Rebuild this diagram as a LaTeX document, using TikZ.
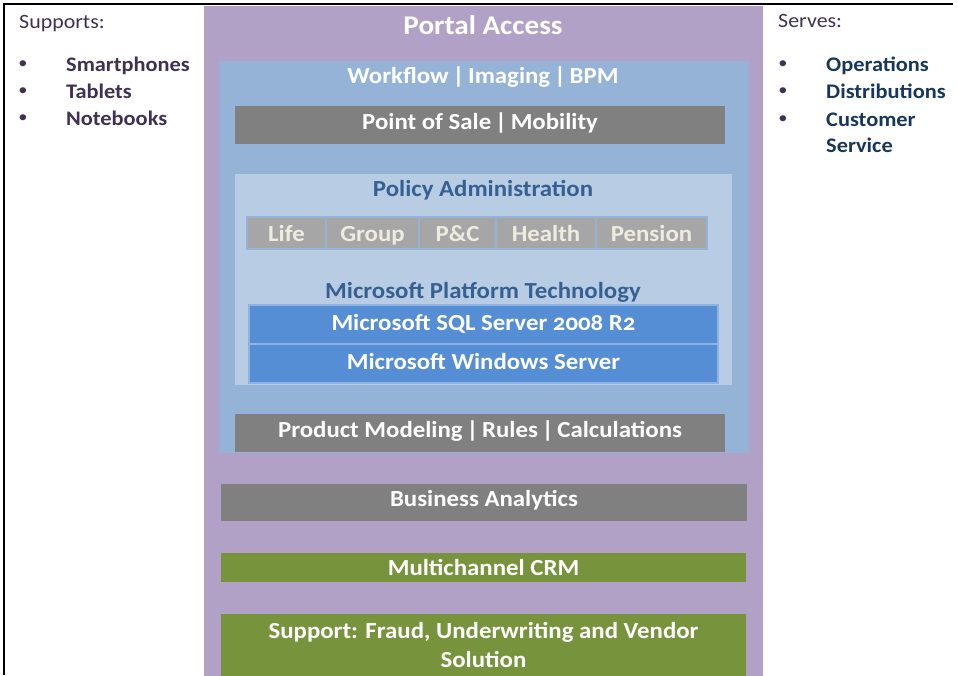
\documentclass[tikz,border=0pt]{standalone}
\usepackage{fontspec}
\setmainfont{Carlito}[FakeStretch=1.08]
\usetikzlibrary{positioning}
\definecolor{portalpurple}{HTML}{B2A1C7}
\definecolor{layerblue}{HTML}{95B3D7}
\definecolor{policyblue}{HTML}{B8CCE4}
\definecolor{msblue}{HTML}{558ED5}
\definecolor{edgeblue}{HTML}{8DB3E2}
\definecolor{modgray}{HTML}{808080}
\definecolor{lobgray}{HTML}{A6A6A6}
\definecolor{lobtext}{HTML}{EEECE1}
\definecolor{crmgreen}{HTML}{77933C}
\definecolor{titleblue}{HTML}{376092}
\definecolor{sidepurple}{HTML}{403152}
\definecolor{sidenavy}{HTML}{17365D}

\begin{document}
\begin{tikzpicture}[x=1pt,y=-1pt,
    layer/.style={rectangle,inner sep=0pt,outer sep=0pt},
    txt/.style={inner sep=0pt,font=\bfseries\fontsize{23}{29}\selectfont,text=white,
      text height=16,text depth=8},
    title/.style={inner sep=0pt,anchor=base,font=\bfseries\fontsize{23}{29}\selectfont},
    lobcell/.style={layer,draw=layerblue,line width=2pt,fill=lobgray,
      minimum height=32,text=lobtext,font=\bfseries\fontsize{23}{28}\selectfont,
      text height=16,text depth=0},
    msbox/.style={layer,draw=edgeblue,line width=2pt,fill=msblue,
      minimum width=469,minimum height=39,txt,text depth=4},
    sideitem/.style={anchor=base west,inner sep=0pt,font=\bfseries\fontsize{20.7}{24}\selectfont},
    sidehead/.style={anchor=base west,inner sep=0pt,text=sidepurple,font=\fontsize{20.3}{24}\selectfont},
    dot/.style={inner sep=0pt,text=sidepurple,font=\fontsize{17}{20}\selectfont}]
  \useasboundingbox (0,0) rectangle (958,675);
  \clip (0,0) rectangle (958,675);
  % frame (top and left only)
  \draw[line width=2.5pt] (4,675) -- (4,4) -- (953,4);
  % main layers
  \node[layer,fill=portalpurple,minimum width=559,minimum height=680] at (483.5,346) (portal) {};
  \node[title,text=white,font=\bfseries\fontsize{27}{30}\selectfont] at (483,34) (portaltitle) {Portal Access};
  \node[layer,fill=layerblue,minimum width=530,minimum height=392] at (484,257) (workflow) {};
  \node[title,text=white] at (483,83) (workflowtitle) {Workflow\,|\,Imaging\,|\,BPM};
  \node[layer,fill=modgray,minimum width=490,minimum height=38,txt] at (480,125) (pos)
    {Point of Sale\,|\,Mobility};
  \node[layer,fill=policyblue,minimum width=497,minimum height=211] at (483.5,279.5) (policy) {};
  \node[title,text=titleblue] at (483,196) (policytitle) {Policy Administration};
  % lines of business
  \node[lobcell,minimum width=79] at (286.5,233) (life) {Life};
  \node[lobcell,minimum width=93,right=0pt of life] (group) {Group};
  \node[lobcell,minimum width=77,right=0pt of group] (pc) {P\&C};
  \node[lobcell,minimum width=100,right=0pt of pc] (health) {Health};
  \node[lobcell,minimum width=111,right=0pt of health] (pension) {Pension};
  % platform
  \node[title,text=titleblue] at (483,298) (mstitle) {Microsoft Platform Technology};
  \node[msbox] at (483.5,324.5) (sql)
    {Microsoft SQL Server {\addfontfeatures{Numbers=OldStyle}2008 R2}};
  \node[msbox,below=0pt of sql] (windows) {Microsoft Windows Server};
  \node[layer,fill=modgray,minimum width=490,minimum height=38,txt] at (480,433) (product)
    {Product Modeling\,|\,Rules\,|\,Calculations};
  % lower layers
  \node[layer,fill=modgray,minimum width=526,minimum height=37,txt] at (484,502.5) (analytics)
    {Business Analytics};
  \node[layer,fill=crmgreen,minimum width=525,minimum height=29,txt,text depth=0] at (483.5,567.5) (crm)
    {Multichannel CRM};
  \node[layer,fill=crmgreen,minimum width=525,minimum height=62,txt,text height=,text depth=,align=center]
    at (483.5,645) (support) {Support: Fraud, Underwriting and Vendor\\Solution};
  % supports
  \node[sidehead] at (19,28) (supports) {Supports:};
  \foreach \y/\n/\t in {71/phones/Smartphones,98/tablets/Tablets,125/notebooks/Notebooks}{
    \node[dot] at (23,\y-6) (b\n) {\textbullet};
    \node[sideitem,text=sidepurple] at (66,\y) (\n) {\t};
  }
  % serves
  \node[sidehead] at (778,27) (serves) {Serves:};
  \foreach \y/\n/\t in {71/operations/Operations,98/distributions/Distributions,126/customer/Customer}{
    \node[dot] at (783,\y-6) (b\n) {\textbullet};
    \node[sideitem,text=sidenavy] at (826,\y) (\n) {\t};
  }
  \node[sideitem,text=sidenavy] at (826,152) (service) {Service};
\end{tikzpicture}
\end{document}
